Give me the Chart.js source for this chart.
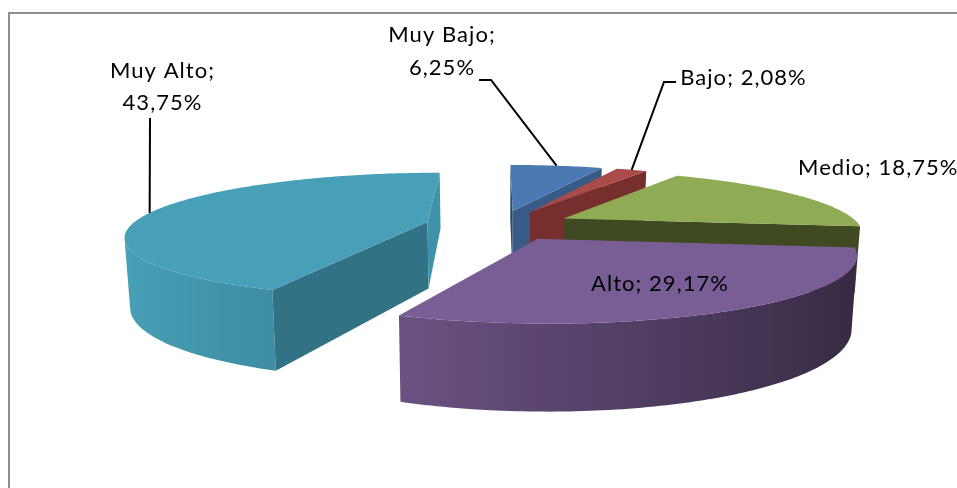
<!DOCTYPE html>
<html>
<head>
<meta charset="utf-8">
<style>html,body{margin:0;padding:0;background:#fff}canvas{display:block}</style>
<script src="https://cdn.jsdelivr.net/npm/chart.js@4"></script>
</head>
<body>
<canvas id="c" width="957" height="488"></canvas>
<script>
const categories = ['Muy Bajo','Bajo','Medio','Alto','Muy Alto'];
const values = [6.25,2.08,18.75,29.17,43.75];
const topColors = ['#4a7ab1','#aa4b4a','#8fac55','#795d95','#47a0b8'];
const startFaceColors = ['#2c4a6e','#772f2e','#3f4a22','#3a2c4a','#317385'];
const endFaceColors = ['#375b85','#772f2e','#3f4a22','#3a2c4a','#3f93a9'];
const paintOrder = [0,1,2,4,3];
// label layout: lines, anchor x, baseline y, align
const labelLayout = [
  {lines:['Muy Bajo;','6,25%'],x:442,y:[42,75]},
  {lines:['Bajo; 2,08%'],x:743.5,y:[85]},
  {lines:['Medio; 18,75%'],x:798,y:[175],align:'left'},
  {lines:['Alto; 29,17%'],x:660,y:[291]},
  {lines:['Muy Alto;','43,75%'],x:162.5,y:[78,110]}
];
const leaderElbows = {0:[[479,80],[491,80]],1:[[676,82],[664,82]],4:[[150,118]]};
const leaderAttach = {0:0.5,1:0.5,4:0.487};

const VIEW = {cx:499,cy:225,radius:296,persp:0.0007,tilt:0.205,depth:68,taper:0.015};

function project(wx,wy,z){
  const w=(1/(1-VIEW.persp*wy))*(1-VIEW.taper*z/VIEW.depth);
  return [VIEW.cx+wx*w, VIEW.cy+(VIEW.tilt*wy+z)*w];
}
function hexToRgb(h){return [1,3,5].map(i=>parseInt(h.substr(i,2),16));}
function wallShade(nx){
  const pts=[[-1,1.02],[-0.38,0.88],[0,0.74],[0.87,0.46],[1,0.43]];
  for(let i=0;i<pts.length-1;i++){
    if(nx<=pts[i+1][0]){
      const t=(nx-pts[i][0])/(pts[i+1][0]-pts[i][0]);
      return pts[i][1]+t*(pts[i+1][1]-pts[i][1]);
    }
  }
  return 0.43;
}
function poly(ctx,pts,fill){
  ctx.beginPath();
  pts.forEach((p,i)=>i?ctx.lineTo(p[0],p[1]):ctx.moveTo(p[0],p[1]));
  ctx.closePath();
  ctx.fillStyle=fill;
  ctx.fill();
}
function sliceGeom(arc){
  const p=arc.getProps(['startAngle','endAngle','outerRadius'],true);
  const S=VIEW.radius/p.outerRadius;
  const mid=(p.startAngle+p.endAngle)/2;
  const off=(arc.options.offset||0)*S;
  return {a0:p.startAngle,a1:p.endAngle,mid,
    ox:Math.cos(mid)*off,oy:Math.sin(mid)*off,R:VIEW.radius};
}
function rim(g,a,z){return project(g.ox+g.R*Math.cos(a),g.oy+g.R*Math.sin(a),z);}
function apex(g,z){return project(g.ox,g.oy,z);}
function faceVisible(g,a){
  const o=apex(g,0),r=rim(g,a,0),m=rim(g,g.mid,0);
  const ex=r[0]-o[0],ey=r[1]-o[1];
  const interior=ex*(m[1]-o[1])-ey*(m[0]-o[0]);
  const down=ex; // cross of edge with (0,1)
  return interior*down<0;
}

const pie3d = {
  id:'pie3d',
  beforeDatasetsDraw(chart){
    const ctx=chart.ctx;
    const arcs=chart.getDatasetMeta(0).data;
    const H=VIEW.depth;
    const stepA=Math.PI/180;
    ctx.save();
    // chart-area frame
    ctx.strokeStyle='#8f8f8f';
    ctx.lineWidth=2;
    ctx.strokeRect(9,13,1000,600);
    ctx.lineJoin='round';
    paintOrder.forEach(i=>{
      const g=sliceGeom(arcs[i]);
      const base=hexToRgb(topColors[i]);
      const n=Math.max(1,Math.ceil((g.a1-g.a0)/stepA));
      // front-facing part of the outer wall: x falls as the angle grows
      const front=[];
      for(let k=0;k<=n;k++){
        const a=g.a0+(g.a1-g.a0)*k/n;
        const b=a+1e-3;
        if(rim(g,b,0)[0]<rim(g,a,0)[0]) front.push(a);
      }
      if(front.length>1){
        const tops=front.map(a=>rim(g,a,0));
        const bots=front.map(a=>rim(g,a,H));
        const xR=tops[0][0],xL=tops[tops.length-1][0];
        const grad=ctx.createLinearGradient(xL,0,xR,0);
        front.forEach((a,k)=>{
          const f=wallShade(Math.cos(a));
          const t=Math.min(1,Math.max(0,(tops[k][0]-xL)/(xR-xL)));
          grad.addColorStop(t,'rgb('+base.map(v=>Math.min(255,Math.round(v*f))).join(',')+')');
        });
        poly(ctx,tops.concat(bots.reverse()),grad);
      }
      // cut faces
      if(faceVisible(g,g.a0)) poly(ctx,[apex(g,0),rim(g,g.a0,0),rim(g,g.a0,H),apex(g,H)],startFaceColors[i]);
      if(faceVisible(g,g.a1)) poly(ctx,[apex(g,0),rim(g,g.a1,0),rim(g,g.a1,H),apex(g,H)],endFaceColors[i]);
      // top surface
      const top=[apex(g,0)];
      for(let k=0;k<=n;k++) top.push(rim(g,g.a0+(g.a1-g.a0)*k/n,0));
      poly(ctx,top,arcs[i].options.backgroundColor);
    });
    // leader lines
    ctx.strokeStyle='#000';ctx.lineWidth=2;ctx.lineJoin='miter';
    Object.keys(leaderElbows).forEach(key=>{
      const i=+key,g=sliceGeom(arcs[i]);
      const end=rim(g,g.a0+(g.a1-g.a0)*leaderAttach[i],0);
      ctx.beginPath();
      leaderElbows[i].forEach((p,k)=>k?ctx.lineTo(p[0],p[1]):ctx.moveTo(p[0],p[1]));
      ctx.lineTo(end[0],end[1]);
      ctx.stroke();
    });
    // labels
    ctx.fillStyle='#000';
    ctx.font='22px Lato, Carlito, sans-serif';
    ctx.letterSpacing='1.05px';
    ctx.textBaseline='alphabetic';
    labelLayout.forEach(l=>{
      ctx.textAlign=l.align||'center';
      l.lines.forEach((t,k)=>ctx.fillText(t,l.x,l.y[k]));
    });
    ctx.restore();
    return false;
  }
};

new Chart(document.getElementById('c'),{
  type:'pie',
  data:{labels:categories,datasets:[{data:values,backgroundColor:topColors,borderWidth:0,offset:54}]},
  options:{responsive:false,animation:false,rotation:0,
    layout:{padding:0},
    plugins:{legend:{display:false},tooltip:{enabled:false}}},
  plugins:[pie3d]
});
</script>
</body>
</html>
